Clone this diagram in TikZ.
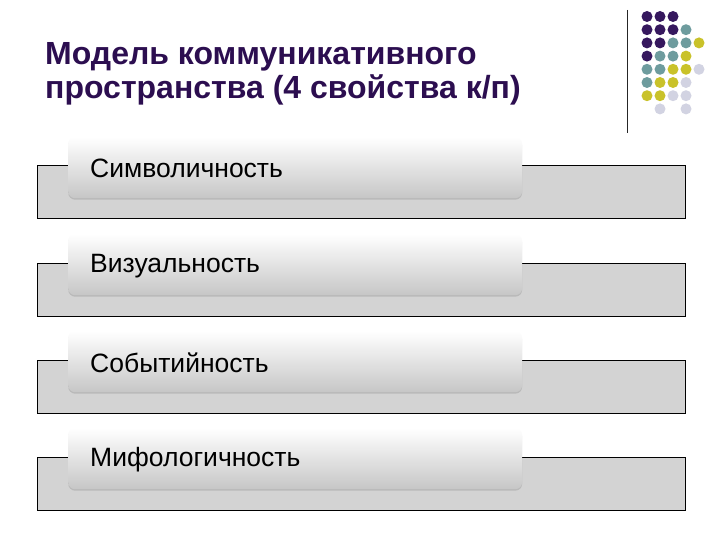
\documentclass[tikz,border=0pt]{standalone}
\usepackage{fontspec}
\setmainfont{Liberation Sans}
\usetikzlibrary{shadows}
\definecolor{titlec}{HTML}{2C0E50}
\definecolor{dpurp}{HTML}{36185E}
\definecolor{dteal}{HTML}{6E9C9E}
\definecolor{dyel}{HTML}{C9C22A}
\definecolor{dlight}{HTML}{D2D3E2}
\definecolor{boxgray}{HTML}{D3D3D3}
\definecolor{boxbot}{HTML}{C6C6C6}
\tikzset{
  graybox/.style={draw=black, line width=1pt, fill=boxgray},
  itembox/.style={rounded corners=7pt, top color=white, bottom color=boxbot, draw=none,
    drop shadow={shadow xshift=0pt, shadow yshift=-1.5pt, opacity=0.12, fill=black}},
  itemtext/.style={anchor=west, font=\fontsize{26.5}{30}\selectfont, inner sep=0pt},
  dot/.style={circle, inner sep=0pt, minimum size=11pt, draw=none},
}
\begin{document}
\begin{tikzpicture}[x=1pt,y=-1pt]
\useasboundingbox (0,0) rectangle (720,540);
\fill[white] (0,0) rectangle (720,540);
% title
\node[anchor=base west, inner sep=0pt, text=titlec, font=\bfseries\fontsize{32}{38}\selectfont] (t1) at (45,65) {Модель коммуникативного};
\node[anchor=base west, inner sep=0pt, text=titlec, font=\bfseries\fontsize{32}{38}\selectfont] (t2) at (45,99) {пространства (4 свойства к/п)};
% vertical line
\draw[line width=1pt, black!85] (627,10) -- (627,133);
% dots
\foreach \c/\r/\col in {0/0/dpurp,1/0/dpurp,2/0/dpurp,
  0/1/dpurp,1/1/dpurp,2/1/dpurp,3/1/dteal,
  0/2/dpurp,1/2/dpurp,2/2/dteal,3/2/dteal,4/2/dyel,
  0/3/dpurp,1/3/dteal,2/3/dteal,3/3/dyel,
  0/4/dteal,1/4/dteal,2/4/dyel,3/4/dyel,4/4/dlight,
  0/5/dteal,1/5/dyel,2/5/dyel,3/5/dlight,
  0/6/dyel,1/6/dyel,2/6/dlight,3/6/dlight,
  1/7/dlight,3/7/dlight}
  \node[dot, fill=\col] (d\c\r) at ({647+13*\c},{16.5+13.2*\r}) {};
% items
\foreach \i/\txt in {0/Символичность,1/Визуальность,2/Событийность,3/Мифологичность}{
  \draw[graybox] (37,{166+97*\i}) rectangle (685,{219+97*\i});
  \node[itembox, minimum width=454pt, minimum height=61pt, anchor=north west] (b\i) at (68,{137+97*\i}) {};
  \node[itemtext] (l\i) at ([xshift=22pt,yshift=-1pt]b\i.west) {\txt};
}
\end{tikzpicture}
\end{document}
